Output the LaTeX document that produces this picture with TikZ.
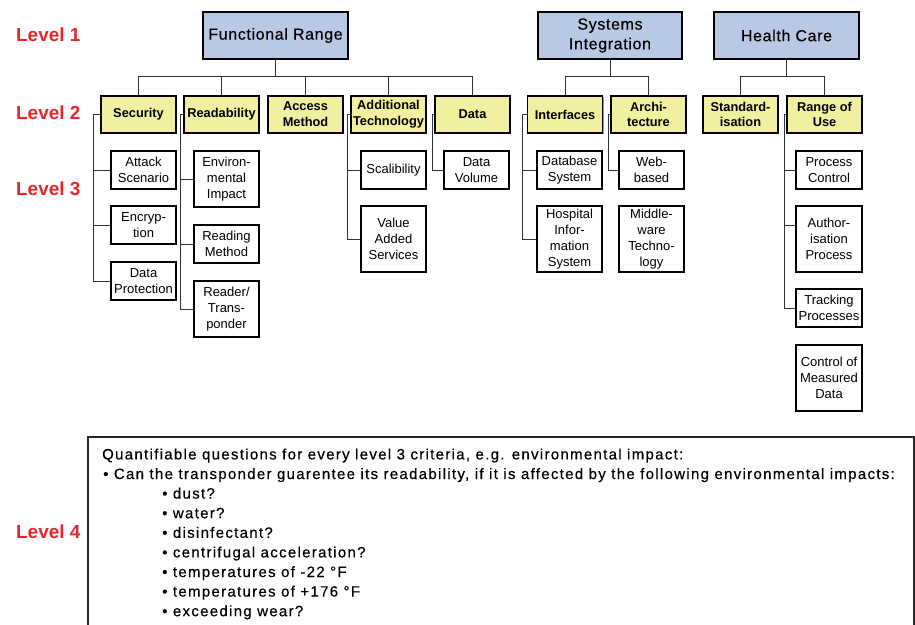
\documentclass[tikz,border=0pt]{standalone}
\usepackage{fontspec}
\setmainfont{Liberation Sans}
\newfontfamily\qfont[FakeBold=0.4,LetterSpace=8.7]{Liberation Sans}
\newfontfamily\lonefont[FakeBold=0.3,LetterSpace=4]{Liberation Sans}
\usetikzlibrary{shadows}
\definecolor{lvblue}{RGB}{185,201,229}
\definecolor{lvyellow}{RGB}{240,240,160}
\definecolor{lvred}{RGB}{232,38,42}
\definecolor{conn}{RGB}{50,50,50}
\begin{document}
\begin{tikzpicture}[x=1pt,y=-1pt,
  boxbase/.style={draw=black, line width=1.7pt, inner sep=0pt, align=center,
    drop shadow={shadow xshift=1.2pt, shadow yshift=-1.2pt, fill=black!40, opacity=1}},
  lonebox/.style={boxbase, fill=lvblue, minimum width=145pt, minimum height=47pt,
    font=\lonefont\fontsize{16}{19.7}\selectfont},
  ltwobox/.style={boxbase, fill=lvyellow, minimum width=75pt, minimum height=37pt,
    font=\bfseries\fontsize{12.8}{15.7}\selectfont},
  lthreebox/.style={boxbase, fill=white, minimum width=65pt,
    font=\fontsize{13}{16}\selectfont},
  lvl/.style={anchor=west, inner sep=0pt, text=lvred, font=\bfseries\fontsize{18.9}{22}\selectfont},
  qline/.style={anchor=base west, inner sep=0pt, font=\qfont\fontsize{15}{19}\selectfont},
  cn/.style={draw=conn, line width=0.9pt}
]
\useasboundingbox (0,0) rectangle (915,624);
\fill[white] (0,0) rectangle (915,624);

% level labels
\node[lvl] (lab1) at (16,35) {Level 1};
\node[lvl] (lab2) at (16,113) {Level 2};
\node[lvl] (lab3) at (16,189) {Level 3};
\node[lvl] (lab4) at (16,532) {Level 4};

% level 1
\node[lonebox] (fr) at (275.5,35.5) {Functional Range};
\node[lonebox, minimum width=144pt] (si) at (610,35.5) {Systems\\Integration};
\node[lonebox] (hc) at (786.5,35.5) {Health Care};

% level 2
\node[ltwobox] (sec) at (138.5,114.5) {Security};
\node[ltwobox] (rea) at (221.5,114.5) {Readability};
\node[ltwobox] (acc) at (305.5,114.5) {Access\\Method};
\node[ltwobox] (add) at (388.5,114.5) {Additional\\Technology};
\node[ltwobox] (dat) at (472.5,114.5) {Data};
\node[ltwobox] (int) at (565,114.5) {Interfaces};
\node[ltwobox] (arc) at (648.5,114.5) {Archi-\\tecture};
\node[ltwobox] (sta) at (740.5,114.5) {Standard-\\isation};
\node[ltwobox] (ran) at (824.5,114.5) {Range of\\Use};

% level 3
\node[lthreebox, minimum height=38pt] (att) at (143.5,170) {Attack\\Scenario};
\node[lthreebox, minimum height=38pt] (enc) at (143.5,225) {Encryp-\\tion};
\node[lthreebox, minimum height=38pt] (dpr) at (143.5,281) {Data\\Protection};
\node[lthreebox, minimum height=56pt] (env) at (226.5,179) {Environ-\\mental\\Impact};
\node[lthreebox, minimum height=38pt] (rme) at (226.5,244) {Reading\\Method};
\node[lthreebox, minimum height=56pt] (rtr) at (226.5,309) {Reader/\\Trans-\\ponder};
\node[lthreebox, minimum height=38pt] (sca) at (393.5,170) {Scalibility};
\node[lthreebox, minimum height=66pt] (vas) at (393.5,239) {Value\\Added\\Services};
\node[lthreebox, minimum height=38pt] (dvo) at (476.5,170) {Data\\Volume};
\node[lthreebox, minimum height=38pt] (dbs) at (569.5,170) {Database\\System};
\node[lthreebox, minimum height=66pt] (his) at (569.5,239) {Hospital\\Infor-\\mation\\System};
\node[lthreebox, minimum height=38pt] (web) at (651.5,170) {Web-\\based};
\node[lthreebox, minimum height=66pt] (mid) at (651.5,239) {Middle-\\ware\\Techno-\\logy};
\node[lthreebox, minimum height=38pt, minimum width=66pt] (prc) at (829,170) {Process\\Control};
\node[lthreebox, minimum height=66pt, minimum width=66pt] (aut) at (829,239) {Author-\\isation\\Process};
\node[lthreebox, minimum height=38pt, minimum width=66pt] (trk) at (829,308) {Tracking\\Processes};
\node[lthreebox, minimum height=66pt, minimum width=66pt] (cmd) at (829,378) {Control of\\Measured\\Data};

% level 1 -> level 2 connectors
\coordinate (frbus) at (275.5,76);
\coordinate (sibus) at (610,76);
\coordinate (hcbus) at (786.5,76);
\draw[cn] (fr.south) -- (frbus);
\foreach \c in {sec,rea,acc,add,dat} \draw[cn] (\c.north) |- (frbus);
\draw[cn] (si.south) -- (sibus);
\foreach \c in {int,arc} \draw[cn] (\c.north) |- (sibus);
\draw[cn] (hc.south) -- (hcbus);
\foreach \c in {sta,ran} \draw[cn] (\c.north) |- (hcbus);

% level 2 -> level 3 connectors
\coordinate (secx) at (93,114.5);
\draw[cn] (sec.west) -- (secx) |- (dpr.west);
\foreach \c in {att,enc} \draw[cn] (secx) |- (\c.west);
\coordinate (reax) at (180,114.5);
\draw[cn] (rea.west) -- (reax) |- (rtr.west);
\foreach \c in {env,rme} \draw[cn] (reax) |- (\c.west);
\coordinate (addx) at (347,114.5);
\draw[cn] (add.west) -- (addx) |- (vas.west);
\draw[cn] (addx) |- (sca.west);
\coordinate (datx) at (432,114.5);
\draw[cn] (dat.west) -- (datx) |- (dvo.west);
\coordinate (intx) at (522,114.5);
\draw[cn] (int.west) -- (intx) |- (his.west);
\draw[cn] (intx) |- (dbs.west);
\coordinate (arcx) at (608,114.5);
\draw[cn] (arc.west) -- (arcx) |- (web.west);
\coordinate (ranx) at (784,114.5);
\draw[cn] (ran.west) -- (ranx) |- (trk.west);
\draw[cn] (ranx) |- (prc.west);
\draw[cn] (ranx) |- ([yshift=14pt]aut.west);

% level 4 box
\draw[draw=black!85, line width=1.4pt] (88,437) rectangle (914,640);
\node[qline] (q0) at (102,459.4) {Quantifiable questions for every level 3 criteria, e.g. environmental impact:};
\node[qline] (q1) at (103,479) {• Can the transponder guarentee its readability, if it is affected by the following environmental impacts:};
\node[qline] (q2) at (162,498.6) {• dust?};
\node[qline] (q3) at (162,518.2) {• water?};
\node[qline] (q4) at (162,537.8) {• disinfectant?};
\node[qline] (q5) at (162,557.4) {• centrifugal acceleration?};
\node[qline] (q6) at (162,577) {• temperatures of -22 °F};
\node[qline] (q7) at (162,596.6) {• temperatures of +176 °F};
\node[qline] (q8) at (162,616.2) {• exceeding wear?};
\end{tikzpicture}
\end{document}
